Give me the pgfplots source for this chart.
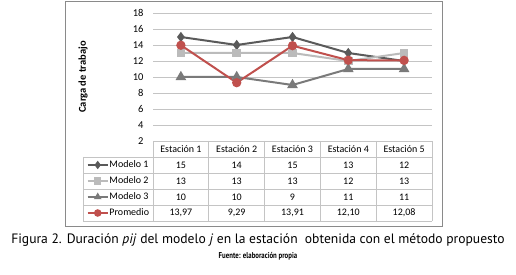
\documentclass[border=0pt]{standalone}
\usepackage{fontspec}
\setmainfont{Carlito}
\newfontfamily\capfont{PT Sans}
\usepackage{graphicx}
\usepackage{pgfplots}
\pgfplotsset{compat=1.18}

\definecolor{mA}{HTML}{5A5A5A}
\definecolor{mB}{HTML}{BBBBBB}
\definecolor{mC}{HTML}{7A7A7A}
\definecolor{pr}{HTML}{C0504D}
\definecolor{gridc}{HTML}{C4C4C4}
\definecolor{framec}{HTML}{8A8A8A}
\definecolor{tabc}{HTML}{C4C4C4}

\begin{document}
\begin{tikzpicture}
\path[use as bounding box] (0pt,0pt) rectangle (516pt,275pt);
\fill[white] (0pt,0pt) rectangle (516pt,275pt);
\draw[framec, line width=1pt] (65pt,48pt) rectangle (442pt,273pt);
\begin{axis}[
  at={(153pt,134pt)}, anchor=south west,
  scale only axis, width=279pt, height=128pt,
  xmin=-0.5, xmax=4.5, ymin=2, ymax=18,
  ytick={2,4,...,18}, xtick=\empty,
  ymajorgrids, grid style={gridc, line width=0.8pt},
  axis line style={draw=none},
  major tick length=0pt,
  tick label style={font=\fontsize{10.5}{12}\selectfont},
  yticklabel style={xshift=-6pt},
  /pgf/number format/assume math mode=true,
  ylabel={Carga de trabajo},
  ylabel style={font=\bfseries\fontsize{10.5}{12}\selectfont, at={(axis description cs:-0.251,0.5)}, anchor=center},
  clip=false,
  legend image code/.code={\draw[mark repeat=2,mark phase=2,line width=1.5pt,mark size=3pt] plot coordinates {(0pt,0pt) (10pt,0pt) (20pt,0pt)};},
  legend style={draw=none, fill=none, at={(axis description cs:-0.2366,-0.125)}, anchor=north west,
    inner sep=0pt, outer sep=0pt, row sep=0pt, column sep=1pt,
    nodes={inner sep=0pt, minimum height=16pt, anchor=west, font=\fontsize{10}{12}\selectfont}},
  legend cell align=left,
]
\addplot[mA, line width=2pt, mark=diamond*, mark size=3.5pt, mark options={fill=mA}]
  coordinates {(0,15) (1,14) (2,15) (3,13) (4,12)};
\addlegendentry{Modelo 1}
\addplot[mB, line width=2pt, mark=square*, mark size=3.3pt, mark options={fill=mB}]
  coordinates {(0,13) (1,13) (2,13) (3,12) (4,13)};
\addlegendentry{Modelo 2}
\addplot[mC, line width=2pt, mark=triangle*, mark size=4.2pt, mark options={fill=mC}]
  coordinates {(0,10) (1,10) (2,9) (3,11) (4,11)};
\addlegendentry{Modelo 3}
\addplot[pr, line width=2pt, mark=*, mark size=3.6pt, mark options={fill=pr}]
  coordinates {(0,13.97) (1,9.29) (2,13.91) (3,12.10) (4,12.08)};
\addlegendentry{Promedio}

% data table grid
\draw[tabc, line width=0.8pt] (axis cs:-0.5,2) -- (axis cs:4.5,2);
\draw[tabc, line width=0.8pt] (axis cs:-1.754,0) -- (axis cs:4.5,0);
\draw[tabc, line width=0.8pt] (axis cs:-1.754,-2) -- (axis cs:4.5,-2);
\draw[tabc, line width=0.8pt] (axis cs:-1.754,-4) -- (axis cs:4.5,-4);
\draw[tabc, line width=0.8pt] (axis cs:-1.754,-6) -- (axis cs:4.5,-6);
\draw[tabc, line width=0.8pt] (axis cs:-1.754,-8) -- (axis cs:4.5,-8);
\draw[tabc, line width=0.8pt] (axis cs:-1.754,0) -- (axis cs:-1.754,-8);
\pgfplotsinvokeforeach{-0.5,0.5,1.5,2.5,3.5,4.5}{
  \draw[tabc, line width=0.8pt] (axis cs:#1,2) -- (axis cs:#1,-8);
}
\pgfplotsinvokeforeach{1,2,3,4,5}{
  \node[font=\fontsize{10}{12}\selectfont] at (axis cs:#1-1,1) {Estación #1};
}
\node[font=\fontsize{10}{12}\selectfont] at (axis cs:0,-1) {15};
\node[font=\fontsize{10}{12}\selectfont] at (axis cs:1,-1) {14};
\node[font=\fontsize{10}{12}\selectfont] at (axis cs:2,-1) {15};
\node[font=\fontsize{10}{12}\selectfont] at (axis cs:3,-1) {13};
\node[font=\fontsize{10}{12}\selectfont] at (axis cs:4,-1) {12};
\node[font=\fontsize{10}{12}\selectfont] at (axis cs:0,-3) {13};
\node[font=\fontsize{10}{12}\selectfont] at (axis cs:1,-3) {13};
\node[font=\fontsize{10}{12}\selectfont] at (axis cs:2,-3) {13};
\node[font=\fontsize{10}{12}\selectfont] at (axis cs:3,-3) {12};
\node[font=\fontsize{10}{12}\selectfont] at (axis cs:4,-3) {13};
\node[font=\fontsize{10}{12}\selectfont] at (axis cs:0,-5) {10};
\node[font=\fontsize{10}{12}\selectfont] at (axis cs:1,-5) {10};
\node[font=\fontsize{10}{12}\selectfont] at (axis cs:2,-5) {9};
\node[font=\fontsize{10}{12}\selectfont] at (axis cs:3,-5) {11};
\node[font=\fontsize{10}{12}\selectfont] at (axis cs:4,-5) {11};
\node[font=\fontsize{10}{12}\selectfont] at (axis cs:0,-7) {13,97};
\node[font=\fontsize{10}{12}\selectfont] at (axis cs:1,-7) {9,29};
\node[font=\fontsize{10}{12}\selectfont] at (axis cs:2,-7) {13,91};
\node[font=\fontsize{10}{12}\selectfont] at (axis cs:3,-7) {12,10};
\node[font=\fontsize{10}{12}\selectfont] at (axis cs:4,-7) {12,08};
\end{axis}
\node[font=\capfont\fontsize{13.6}{15}\selectfont] at (258pt,35pt)
  {Figura 2. Duración \textit{pij} del modelo \textit{j} en la estación\ \ obtenida con el método propuesto};
\node[font=\capfont\bfseries\fontsize{8.5}{10}\selectfont] at (258pt,19pt)
  {\scalebox{0.8}[1]{Fuente: elaboración propia}};
\end{tikzpicture}
\end{document}
